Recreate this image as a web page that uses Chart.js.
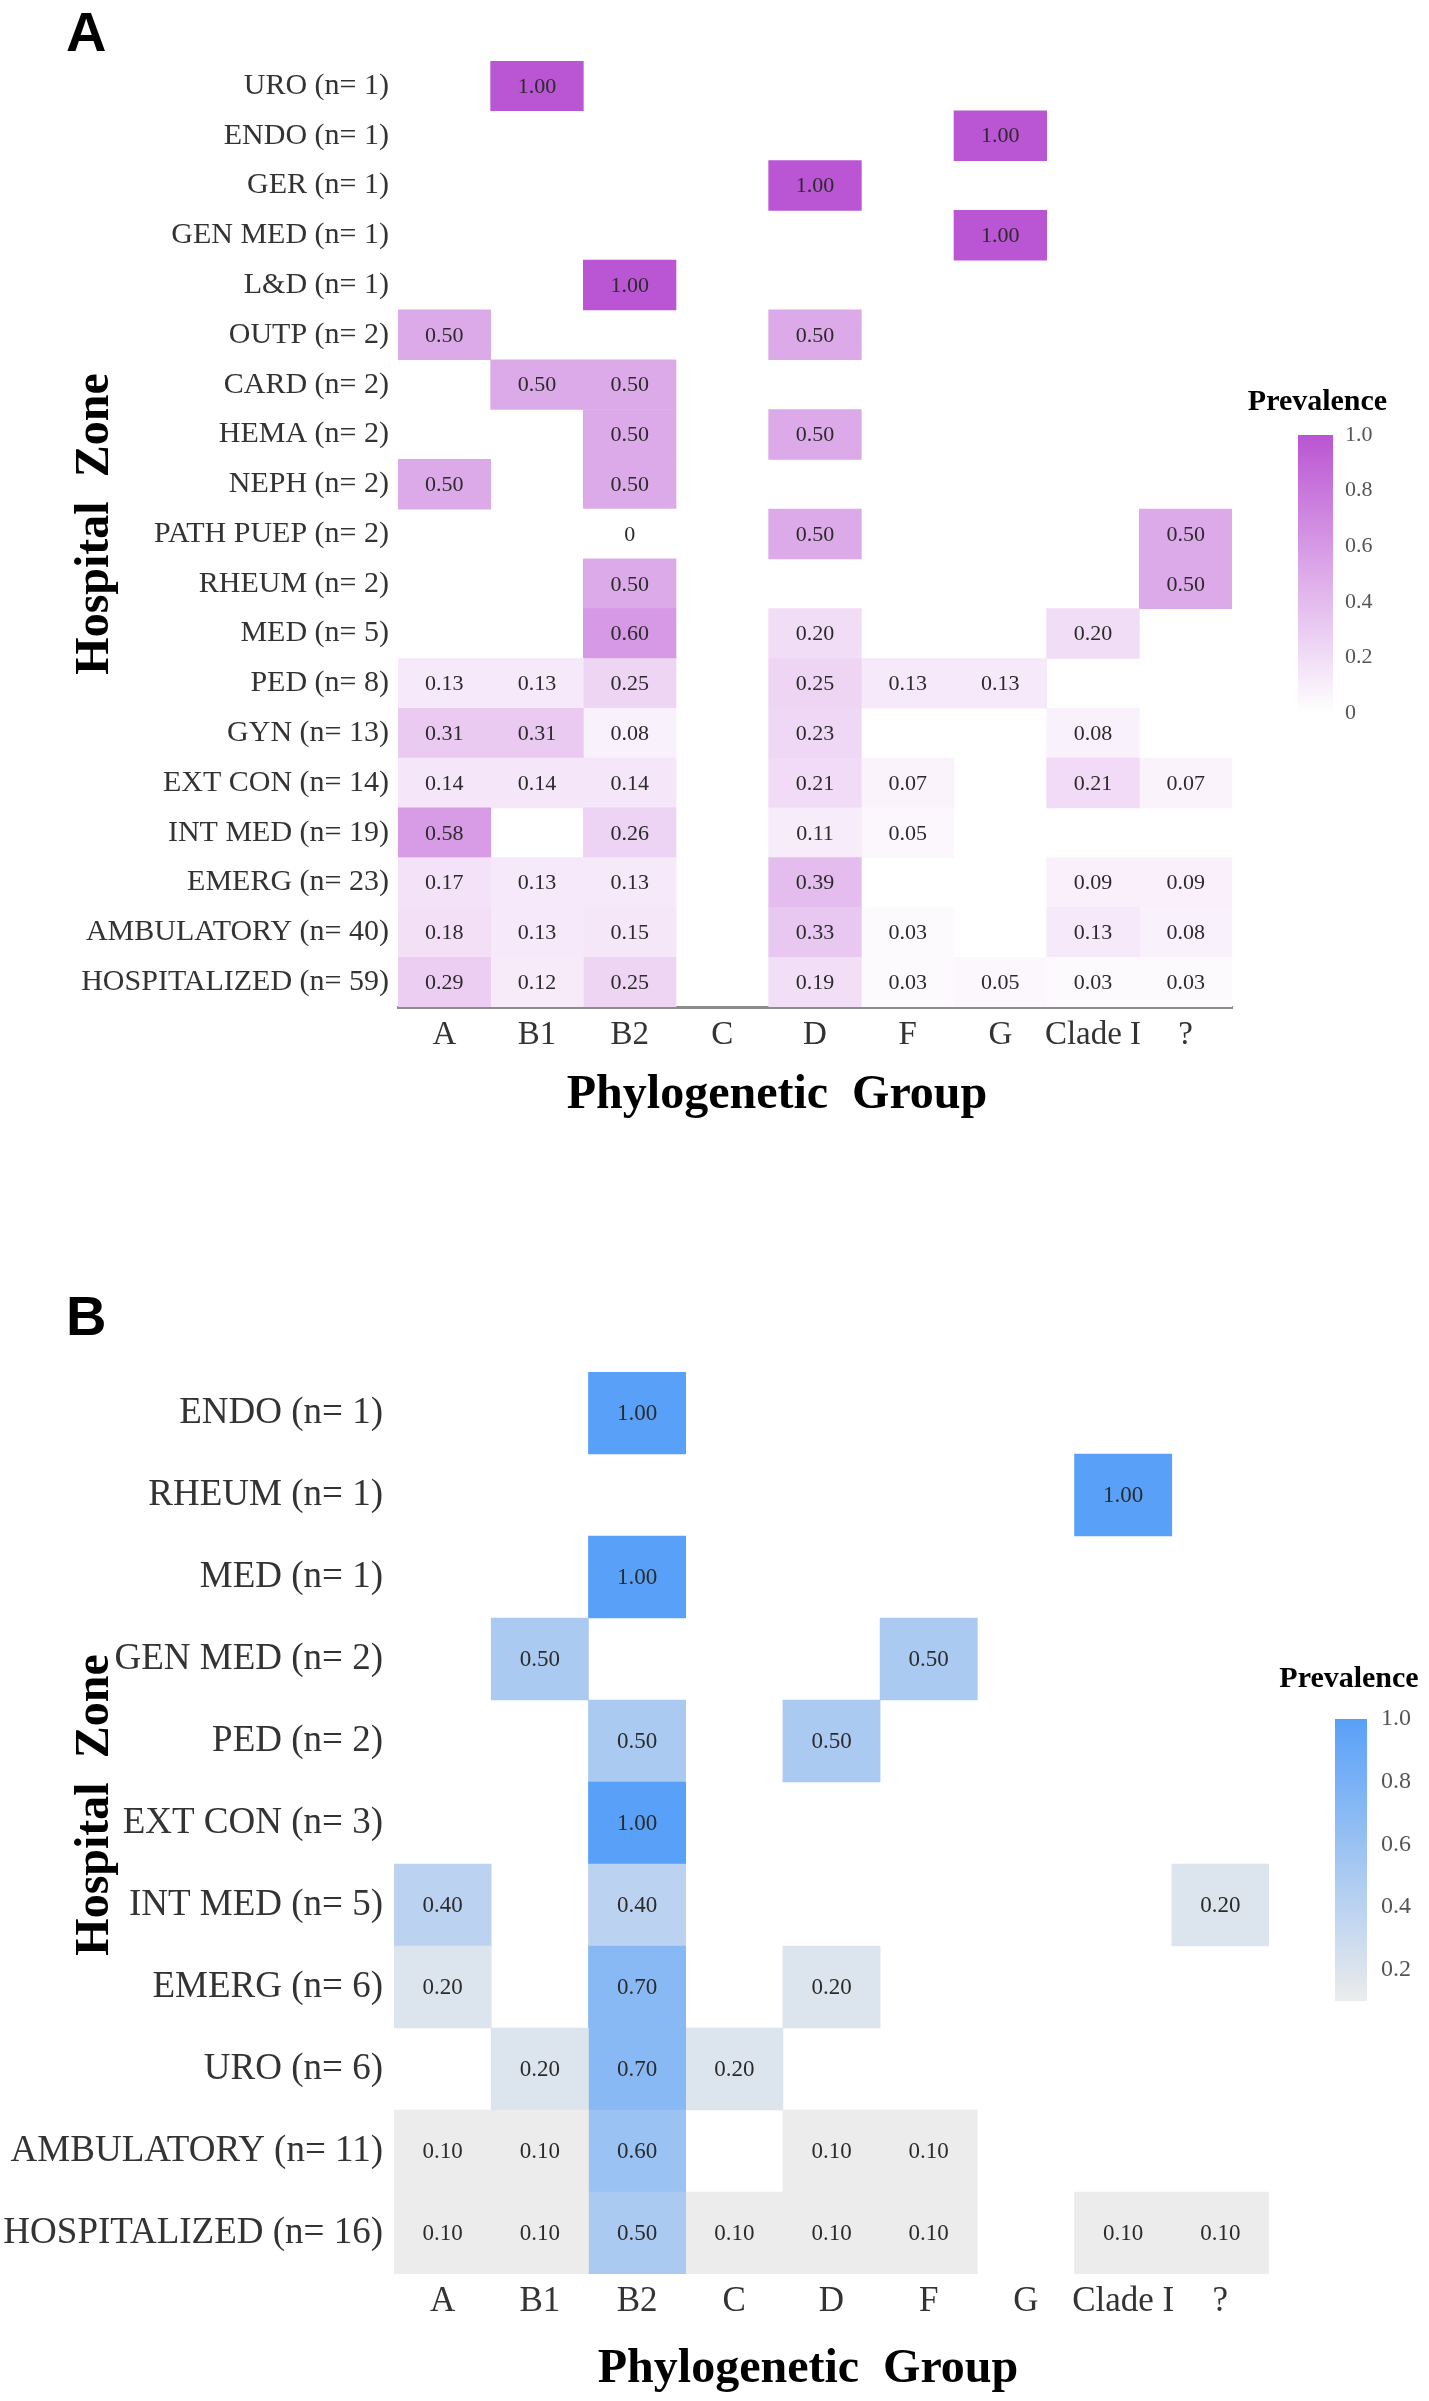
<!DOCTYPE html>
<html><head><meta charset="utf-8">
<script src="https://cdn.jsdelivr.net/npm/chart.js@4.4.1/dist/chart.umd.min.js"></script>
<style>
html,body{margin:0;padding:0;background:#fff;}
body{width:1429px;height:2401px;position:relative;overflow:hidden;}
canvas{position:absolute;}
</style></head><body>
<canvas id="cA" width="1429" height="1130" style="left:0;top:0;"></canvas>
<canvas id="cbA" width="199" height="360" style="left:1230px;top:380px;"></canvas>
<canvas id="cB" width="1429" height="1161" style="left:0;top:1240px;"></canvas>
<canvas id="cbB" width="159" height="400" style="left:1270px;top:1640px;"></canvas>
<script>
// ---------- DATA ----------
const groups = ['A','B1','B2','C','D','F','G','Clade I','?'];

// Panel A
const zonesA = ['URO (n= 1)','ENDO (n= 1)','GER (n= 1)','GEN MED (n= 1)','L&D (n= 1)','OUTP (n= 2)','CARD (n= 2)','HEMA (n= 2)','NEPH (n= 2)','PATH PUEP (n= 2)','RHEUM (n= 2)','MED (n= 5)','PED (n= 8)','GYN (n= 13)','EXT CON (n= 14)','INT MED (n= 19)','EMERG (n= 23)','AMBULATORY (n= 40)','HOSPITALIZED (n= 59)'];
const A_A  = [null,null,null,null,null,0.50,null,null,0.50,null,null,null,0.13,0.31,0.14,0.58,0.17,0.18,0.29];
const A_B1 = [1.00,null,null,null,null,null,0.50,null,null,null,null,null,0.13,0.31,0.14,null,0.13,0.13,0.12];
const A_B2 = [null,null,null,null,1.00,null,0.50,0.50,0.50,0,0.50,0.60,0.25,0.08,0.14,0.26,0.13,0.15,0.25];
const A_C  = [null,null,null,null,null,null,null,null,null,null,null,null,null,null,null,null,null,null,null];
const A_D  = [null,null,1.00,null,null,0.50,null,0.50,null,0.50,null,0.20,0.25,0.23,0.21,0.11,0.39,0.33,0.19];
const A_F  = [null,null,null,null,null,null,null,null,null,null,null,null,0.13,null,0.07,0.05,null,0.03,0.03];
const A_G  = [null,1.00,null,1.00,null,null,null,null,null,null,null,null,0.13,null,null,null,null,null,0.05];
const A_CI = [null,null,null,null,null,null,null,null,null,null,null,0.20,null,0.08,0.21,null,0.09,0.13,0.03];
const A_Q  = [null,null,null,null,null,null,null,null,null,0.50,0.50,null,null,null,0.07,null,0.09,0.08,0.03];

// Panel B
const zonesB = ['ENDO (n= 1)','RHEUM (n= 1)','MED (n= 1)','GEN MED (n= 2)','PED (n= 2)','EXT CON (n= 3)','INT MED (n= 5)','EMERG (n= 6)','URO (n= 6)','AMBULATORY (n= 11)','HOSPITALIZED (n= 16)'];
const B_A  = [null,null,null,null,null,null,0.40,0.20,null,0.10,0.10];
const B_B1 = [null,null,null,0.50,null,null,null,null,0.20,0.10,0.10];
const B_B2 = [1.00,null,1.00,null,0.50,1.00,0.40,0.70,0.70,0.60,0.50];
const B_C  = [null,null,null,null,null,null,null,null,0.20,null,0.10];
const B_D  = [null,null,null,null,0.50,null,null,0.20,null,0.10,0.10];
const B_F  = [null,null,null,0.50,null,null,null,null,null,0.10,0.10];
const B_G  = [null,null,null,null,null,null,null,null,null,null,null];
const B_CI = [null,1.00,null,null,null,null,null,null,null,null,0.10];
const B_Q  = [null,null,null,null,null,null,0.20,null,null,null,0.10];

const cbTicksA = [0,0.2,0.4,0.6,0.8,1.0];
const cbTicksB = [0.2,0.4,0.6,0.8,1.0];

// ---------- STYLE ----------
const SERIF = '"Liberation Serif", "Times New Roman", serif';
const SANS = '"Liberation Sans", Arial, sans-serif';
const palA = {lo:[255,255,255], hi:[186,85,211], min:0, max:1};
const palB = {lo:[236,236,236], hi:[88,160,248], min:0.1, max:1};

function colorFor(pal, v){
  let t = (v - pal.min) / (pal.max - pal.min);
  t = Math.max(0, Math.min(1, t));
  const c = pal.lo.map((a,i)=>Math.round(a + (pal.hi[i]-a)*t));
  return 'rgb(' + c.join(',') + ')';
}

const cellLabels = {
  id: 'cellLabels',
  afterDatasetsDraw(chart, args, opts){
    const ctx = chart.ctx;
    ctx.save();
    ctx.font = opts.size + 'px ' + SERIF;
    ctx.fillStyle = opts.color;
    ctx.textAlign = 'center';
    ctx.textBaseline = 'middle';
    chart.data.datasets.forEach((ds, di)=>{
      const meta = chart.getDatasetMeta(di);
      meta.data.forEach((el, i)=>{
        const v = ds.vals[i];
        if (v === null || v === undefined) return;
        const p = el.getCenterPoint();
        ctx.fillText(v === 0 ? '0' : v.toFixed(2), p.x, p.y + 1);
      });
    });
    ctx.restore();
  }
};

const panelTexts = {
  id: 'panelTexts',
  afterDraw(chart, args, o){
    const ctx = chart.ctx;
    ctx.save();
    ctx.fillStyle = '#000';
    ctx.font = 'bold 56px ' + SANS;
    ctx.textAlign = 'left'; ctx.textBaseline = 'top';
    ctx.fillText(o.letter, o.letterX, o.letterY);
    ctx.font = 'bold 48px ' + SERIF;
    ctx.textAlign = 'center'; ctx.textBaseline = 'middle';
    ctx.fillText(o.xTitle, o.xTitleX, o.xTitleY);
    ctx.translate(o.yTitleX, o.yTitleY);
    ctx.rotate(-Math.PI/2);
    ctx.fillText(o.yTitle, 0, 0);
    ctx.restore();
  }
};

const cbTitle = {
  id: 'cbTitle',
  afterDraw(chart, args, o){
    const ctx = chart.ctx, a = chart.chartArea;
    ctx.save();
    ctx.fillStyle = '#000';
    ctx.font = 'bold 30px ' + SERIF;
    ctx.textAlign = 'center'; ctx.textBaseline = 'middle';
    ctx.fillText(o.text, (a.left + a.right)/2 + o.dx, a.top - o.dy);
    ctx.restore();
  }
};

function heatmap(id, zones, cols, pal, g){
  const datasets = cols.map((vals, ci)=>({
    label: groups[ci],
    data: vals.map(v => v === null ? null : [ci - 0.5, ci + 0.5]),
    vals: vals,
    backgroundColor: (ctx)=>{
      const v = ctx.dataset.vals[ctx.dataIndex];
      return (v === null || v === undefined) ? 'rgba(0,0,0,0)' : colorFor(pal, v);
    },
    borderWidth: 0,
    grouped: false,
    barPercentage: 1,
    categoryPercentage: 1
  }));
  const cv = document.getElementById(id);
  return new Chart(cv, {
    type: 'bar',
    data: { labels: zones, datasets },
    options: {
      indexAxis: 'y',
      responsive: false,
      animation: false,
      layout: { padding: { left: 0, right: g.padRight, top: g.padTop, bottom: 0 } },
      plugins: {
        legend: { display: false },
        tooltip: { enabled: false },
        cellLabels: { size: g.cellSize, color: '#2b2b2b' },
        panelTexts: g.texts
      },
      scales: {
        y: {
          type: 'category',
          position: 'left',
          grid: { display: false, drawTicks: false },
          border: { display: false },
          afterFit: (s)=>{ s.width = g.yW; },
          ticks: { autoSkip: false, padding: g.yPad, color: '#333', font: { family: SERIF, size: g.ySize } }
        },
        x: {
          type: 'linear',
          position: 'bottom',
          min: -0.5, max: groups.length - 0.5,
          grid: { display: false, drawTicks: false },
          border: { display: g.axisLine, color: '#8c8c8c', width: 3 },
          afterBuildTicks: (s)=>{ s.ticks = groups.map((_, i)=>({ value: i })); },
          afterFit: (s)=>{ s.height = g.xH; },
          ticks: { autoSkip: false, maxRotation: 0, padding: g.xPad, color: '#333', font: { family: SERIF, size: g.xSize },
                   callback: (v)=> groups[v] }
        }
      }
    },
    plugins: [cellLabels, panelTexts]
  });
}

function colorbar(id, pal, ticks, fmt, g){
  return new Chart(document.getElementById(id), {
    type: 'bar',
    data: { labels: [''], datasets: [{
      data: [[pal.min, pal.max]],
      barPercentage: 1, categoryPercentage: 1, borderWidth: 0,
      backgroundColor: (ctx)=>{
        const ch = ctx.chart, ys = ch.scales.y;
        if (!ys || !ch.chartArea) return colorFor(pal, (pal.min + pal.max)/2);
        const grd = ch.ctx.createLinearGradient(0, ys.getPixelForValue(pal.min), 0, ys.getPixelForValue(pal.max));
        for (let k = 0; k <= 10; k++){
          grd.addColorStop(k/10, colorFor(pal, pal.min + (pal.max - pal.min)*k/10));
        }
        return grd;
      }
    }]},
    options: {
      responsive: false, animation: false,
      layout: { padding: { left: g.left, top: g.top, bottom: g.bottom, right: 0 } },
      plugins: { legend: { display: false }, tooltip: { enabled: false }, cbTitle: { text: 'Prevalence', dx: g.tdx, dy: g.tdy } },
      scales: {
        x: { display: false },
        y: {
          position: 'right', min: pal.min, max: pal.max,
          grid: { display: false, drawTicks: false }, border: { display: false },
          afterBuildTicks: (s)=>{ s.ticks = ticks.map(v=>({ value: v })); },
          afterFit: (s)=>{ s.width = g.axisW; },
          ticks: { padding: g.pad, color: '#555', font: { family: SERIF, size: g.size }, callback: (v)=>fmt(v) }
        }
      }
    },
    plugins: [cbTitle]
  });
}

heatmap('cA', zonesA, [A_A, A_B1, A_B2, A_C, A_D, A_F, A_G, A_CI, A_Q], palA, {
  padRight: 197, padTop: 61, yW: 398, xH: 1130 - 1007, yPad: 9, xPad: 9,
  ySize: 30, xSize: 33, cellSize: 22, axisLine: true,
  texts: { letter: 'A', letterX: 66, letterY: 8, xTitle: 'Phylogenetic  Group', xTitleX: 777, xTitleY: 1096,
           yTitle: 'Hospital  Zone', yTitleX: 96, yTitleY: 524 }
});
colorbar('cbA', palA, cbTicksA, (v)=> v === 0 ? '0' : v.toFixed(1), {
  left: 68, top: 55, bottom: 27, axisW: 96, pad: 12, size: 22, tdx: 2, tdy: 33
});
heatmap('cB', zonesB, [B_A, B_B1, B_B2, B_C, B_D, B_F, B_G, B_CI, B_Q], palB, {
  padRight: 160, padTop: 132, yW: 394, xH: 1161 - 1034, yPad: 11, xPad: 7,
  ySize: 37, xSize: 35, cellSize: 23, axisLine: false,
  texts: { letter: 'B', letterX: 66, letterY: 52, xTitle: 'Phylogenetic  Group', xTitleX: 808, xTitleY: 1130,
           yTitle: 'Hospital  Zone', yTitleX: 96, yTitleY: 565 }
});
colorbar('cbB', palB, cbTicksB, (v)=> v.toFixed(1), {
  left: 65, top: 79, bottom: 39, axisW: 62, pad: 14, size: 24, tdx: -2, tdy: 40
});
</script>
</body></html>
